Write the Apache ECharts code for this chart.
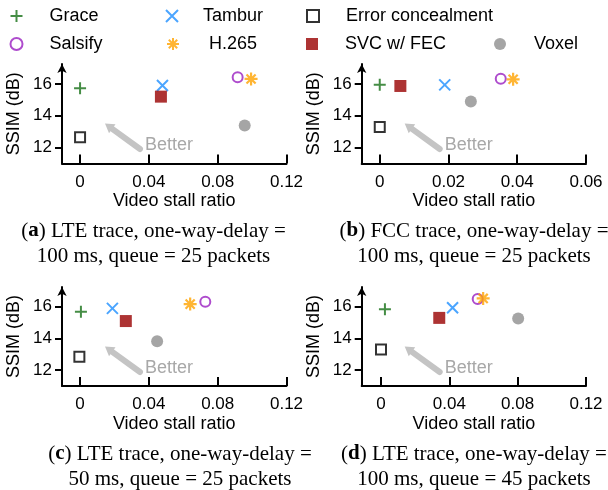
<!DOCTYPE html>
<html>
<head>
<meta charset="utf-8">
<script src="https://cdn.jsdelivr.net/npm/echarts@6/dist/echarts.min.js"></script>
<style>
  html, body { margin: 0; padding: 0; background: #fff; }
  #chart { width: 608px; height: 490px; }
</style>
</head>
<body>
<div id="chart"></div>
<script>
// [video stall ratio, SSIM dB] for panels a, b, c, d
const grace = [[0, 15.73], [0, 15.94], [0.0005, 15.68], [0.0023, 15.84]];
const tambur = [[0.0479, 15.9], [0.0189, 15.94], [0.0188, 15.9], [0.0419, 15.94]];
const errorConcealment = [[0, 12.65], [0, 13.29], [-0.0004, 12.84], [0, 13.31]];
const salsify = [[0.0916, 16.42], [0.0352, 16.33], [0.0728, 16.32], [0.0566, 16.49]];
const h265 = [[0.0994, 16.31], [0.0388, 16.29], [0.064, 16.17], [0.0598, 16.53]];
const svcFec = [[0.047, 15.2], [0.006, 15.87], [0.0266, 15.1], [0.0341, 15.3]];
const voxel = [[0.0957, 13.39], [0.0265, 14.9], [0.0448, 13.83], [0.0803, 15.26]];

const xTicksLte = [0, 0.04, 0.08, 0.12];
const xTicksFcc = [0, 0.02, 0.04, 0.06];
const yTicks = [12, 14, 16];

const captions = [
  ['a', ') LTE trace, one-way-delay =', '100 ms, queue = 25 packets'],
  ['b', ') FCC trace, one-way-delay =', '100 ms, queue = 25 packets'],
  ['c', ') LTE trace, one-way-delay =', '50 ms, queue = 25 packets'],
  ['d', ') LTE trace, one-way-delay =', '100 ms, queue = 45 packets'],
];

// panel layout (pixels) and axis extents
const panels = [
  { left: 62, top: 64, width: 224.5, height: 99.5, xMin: -0.0105, xMax: 0.12, ticks: xTicksLte, capX: 153.5, capY: 231 },
  { left: 361.7, top: 64, width: 224.3, height: 99.5, xMin: -0.00525, xMax: 0.06, ticks: xTicksFcc, capX: 474, capY: 231 },
  { left: 62, top: 287, width: 224.5, height: 99, xMin: -0.0105, xMax: 0.12, ticks: xTicksLte, capX: 180, capY: 454 },
  { left: 361.7, top: 287, width: 224.3, height: 99, xMin: -0.0113, xMax: 0.12, ticks: xTicksLte, capX: 474, capY: 454 },
];

const plusPath = 'path://M0,5L10,5M5,0L5,10';
const crossPath = 'path://M0,0L10,10M10,0L0,10';
const starPath = 'path://M5,0L5,10M0,5L10,5M1.5,1.5L8.5,8.5M8.5,1.5L1.5,8.5';
const clear = 'rgba(0,0,0,0)';

const methods = [
  { name: 'Grace', data: grace, symbol: plusPath, size: 12, style: { color: clear, borderColor: '#177017', borderWidth: 2 } },
  { name: 'Tambur', data: tambur, symbol: crossPath, size: 11, style: { color: clear, borderColor: '#1e8fff', borderWidth: 2 } },
  { name: 'Error concealment', data: errorConcealment, symbol: 'rect', size: 10, style: { color: clear, borderColor: '#000', borderWidth: 2 } },
  { name: 'Salsify', data: salsify, symbol: 'circle', size: 10, style: { color: clear, borderColor: '#9a1fc0', borderWidth: 2 } },
  { name: 'H.265', data: h265, symbol: starPath, size: 13, style: { color: clear, borderColor: '#ffa200', borderWidth: 2.2 } },
  { name: 'SVC w/ FEC', data: svcFec, symbol: 'rect', size: 12, style: { color: '#990000' } },
  { name: 'Voxel', data: voxel, symbol: 'circle', size: 12, style: { color: '#8f8f8f' } },
];

// legend placement: [left, top, text padding]
const legendPos = {
  'Grace': [9.5, 7, 22],
  'Tambur': [165, 7, 20],
  'Error concealment': [306, 7, 22],
  'Salsify': [9.5, 35, 22],
  'H.265': [166, 35, 25],
  'SVC w/ FEC': [306, 35, 22],
  'Voxel': [494, 35, 23],
};

const chart = echarts.init(document.getElementById('chart'));

const series = [];
panels.forEach((p, i) => {
  methods.forEach(m => {
    series.push({
      type: 'scatter',
      name: m.name,
      xAxisIndex: i,
      yAxisIndex: i,
      data: [m.data[i]],
      symbol: m.symbol,
      symbolSize: m.size,
      itemStyle: m.style,
      emphasis: { disabled: true },
    });
  });
});

const graphic = [];
panels.forEach((p, i) => {
  // "Better" hint arrow
  const tail = [78, 85], tip = [43, 59.5];
  const dx = tip[0] - tail[0], dy = tip[1] - tail[1];
  const len = Math.hypot(dx, dy);
  const ux = dx / len, uy = dy / len;
  const bx = tip[0] - ux * 9, by = tip[1] - uy * 9;
  const hw = 5.5;
  graphic.push({
    type: 'group', bounding: 'raw', x: p.left, y: p.top,
    children: [
      { type: 'line', shape: { x1: tail[0], y1: tail[1], x2: bx, y2: by },
        style: { stroke: '#c4c4c4', lineWidth: 6, lineCap: 'round' } },
      { type: 'polygon', shape: { points: [[tip[0], tip[1]], [bx - uy * hw, by + ux * hw], [bx + uy * hw, by - ux * hw]] },
        style: { fill: '#c4c4c4' } },
      { type: 'text', x: 83, y: 81, style: { text: 'Better', fill: '#a8a8a8', font: '18px "Liberation Sans", Arial', verticalAlign: 'middle' } },
    ],
  });
  const c = captions[i];
  graphic.push({
    type: 'text', x: p.capX, y: p.capY,
    style: {
      text: '(' + '{b|' + c[0] + '}' + c[1],
      fill: '#000', font: '21px "Liberation Serif", serif', align: 'center', verticalAlign: 'middle',
      rich: { b: { fontWeight: 'bold', fontSize: 21, fontFamily: '"Liberation Serif", serif' } },
    },
  });
  graphic.push({
    type: 'text', x: p.capX, y: p.capY + 25,
    style: { text: c[2], fill: '#000', font: '21px "Liberation Serif", serif', align: 'center', verticalAlign: 'middle' },
  });
});

const option = {
  backgroundColor: '#fff',
  animation: false,
  textStyle: { fontFamily: '"Liberation Sans", Arial, sans-serif' },
  legend: methods.map(m => ({
    data: [m.name],
    left: legendPos[m.name][0],
    top: legendPos[m.name][1],
    padding: 0,
    itemWidth: 12,
    itemHeight: 12,
    selectedMode: false,
    textStyle: { fontSize: 18, color: '#000', padding: [0, 0, 0, legendPos[m.name][2]] },
  })),
  grid: panels.map(p => ({ left: p.left, top: p.top, width: p.width, height: p.height })),
  xAxis: panels.map((p, i) => ({
    type: 'value',
    gridIndex: i,
    min: p.xMin,
    max: p.xMax,
    name: 'Video stall ratio',
    nameLocation: 'middle',
    nameGap: 29,
    nameTextStyle: { fontSize: 18, color: '#000' },
    axisLine: { onZero: false, lineStyle: { color: '#000', width: 2 } },
    axisTick: { inside: true, length: 9, lineStyle: { width: 2, color: '#000' }, customValues: p.ticks },
    axisLabel: { fontSize: 17, color: '#000', margin: 10, customValues: p.ticks },
    splitLine: { show: false },
  })),
  yAxis: panels.map((p, i) => ({
    type: 'value',
    gridIndex: i,
    min: 11,
    max: 17.25,
    name: 'SSIM (dB)',
    nameLocation: 'middle',
    nameGap: 39,
    nameTextStyle: { fontSize: 18, color: '#000' },
    axisLine: { show: true, onZero: false, symbol: ['none', 'arrow'], symbolSize: [7, 9], lineStyle: { color: '#000', width: 2 } },
    axisTick: { show: true, length: 7, lineStyle: { width: 2, color: '#000' }, customValues: yTicks },
    axisLabel: { fontSize: 17, color: '#000', margin: 10, customValues: yTicks },
    splitLine: { show: false },
  })),
  graphic: graphic,
  series: series,
};

chart.setOption(option);
</script>
</body>
</html>
